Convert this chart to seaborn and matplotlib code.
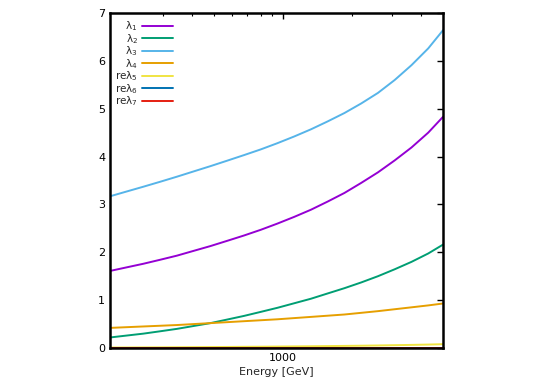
import numpy as np
import pandas as pd
import matplotlib
matplotlib.use('Agg')
import matplotlib.pyplot as plt
from matplotlib.ticker import FixedLocator, NullFormatter, FixedFormatter
import seaborn as sns

# values (energy in GeV)
energy = [176, 208, 246, 292, 345, 408, 483, 572, 676, 801, 947,
          1121, 1327, 1569, 1857, 2198, 2600, 3077, 3643, 4310, 5000]
lam1 = [1.61, 1.685, 1.76, 1.845, 1.93, 2.03, 2.13, 2.24, 2.35, 2.47, 2.60,
        2.74, 2.89, 3.06, 3.24, 3.45, 3.67, 3.92, 4.19, 4.50, 4.83]
lam2 = [0.22, 0.26, 0.30, 0.35, 0.40, 0.46, 0.52, 0.595, 0.67, 0.755, 0.84,
        0.935, 1.03, 1.14, 1.25, 1.37, 1.50, 1.645, 1.80, 1.975, 2.16]
lam3 = [3.17, 3.27, 3.37, 3.475, 3.58, 3.69, 3.80, 3.915, 4.03, 4.15, 4.28,
        4.42, 4.57, 4.735, 4.91, 5.11, 5.33, 5.60, 5.91, 6.26, 6.64]
lam4 = [0.42, 0.435, 0.45, 0.465, 0.48, 0.50, 0.52, 0.54, 0.56, 0.58, 0.60,
        0.625, 0.65, 0.675, 0.70, 0.735, 0.77, 0.81, 0.85, 0.89, 0.93]
re_lam5 = [0.010, 0.011, 0.013, 0.014, 0.016, 0.018, 0.020, 0.022, 0.025, 0.027, 0.030,
           0.033, 0.036, 0.040, 0.044, 0.048, 0.053, 0.059, 0.065, 0.072, 0.080]
re_lam6 = [0.0] * 21
re_lam7 = [0.0] * 21

labels = ['λ$_1$', 'λ$_2$', 'λ$_3$', 'λ$_4$', 'reλ$_5$', 'reλ$_6$', 'reλ$_7$']
colors = ['#9400d3', '#009e73', '#56b4e9', '#e69f00', '#f0e442', '#0072b2', '#e51e10']
series = [lam1, lam2, lam3, lam4, re_lam5, re_lam6, re_lam7]

sns.set_style('white')
plt.rcParams['font.family'] = ['DejaVu Sans']
plt.rcParams['mathtext.fontset'] = 'dejavusans'

fig = plt.figure(figsize=(5.45, 3.82), dpi=100)
ax = fig.add_axes([110 / 545, 1 - 348 / 382, 333 / 545, 335 / 382])

for vals, lab, col in zip(series, labels, colors):
    df = pd.DataFrame({'Energy': energy, 'value': vals})
    sns.lineplot(data=df, x='Energy', y='value', ax=ax, color=col, lw=1.4, label=lab)

ax.set_xscale('log')
ax.set_xlim(176, 5000)
ax.set_ylim(0, 7)
ax.xaxis.set_major_locator(FixedLocator([1000]))
ax.xaxis.set_major_formatter(FixedFormatter(['1000']))
ax.xaxis.set_minor_locator(FixedLocator([300, 400, 500, 600, 700, 800, 900, 2000, 3000, 4000, 5000]))
ax.xaxis.set_minor_formatter(NullFormatter())
ax.set_yticks(range(0, 8))

ax.tick_params(which='both', direction='in', top=True, right=True, labelsize=8, colors='black')
ax.tick_params(which='major', length=4, width=1)
ax.tick_params(which='minor', length=2.5, width=0.8)
for s in ax.spines.values():
    s.set_linewidth(1.8)
    s.set_color('black')
    s.set_visible(True)

ax.set_xlabel('Energy [GeV]', fontsize=8, labelpad=3)
ax.set_ylabel('')

leg = ax.legend(loc='upper left', bbox_to_anchor=(-0.005, 1.0), frameon=False, markerfirst=False,
                fontsize=7.5, handlelength=3.0, handletextpad=0.4, labelspacing=-0.12,
                borderaxespad=0.2)

fig.savefig('out.png', dpi=100)
